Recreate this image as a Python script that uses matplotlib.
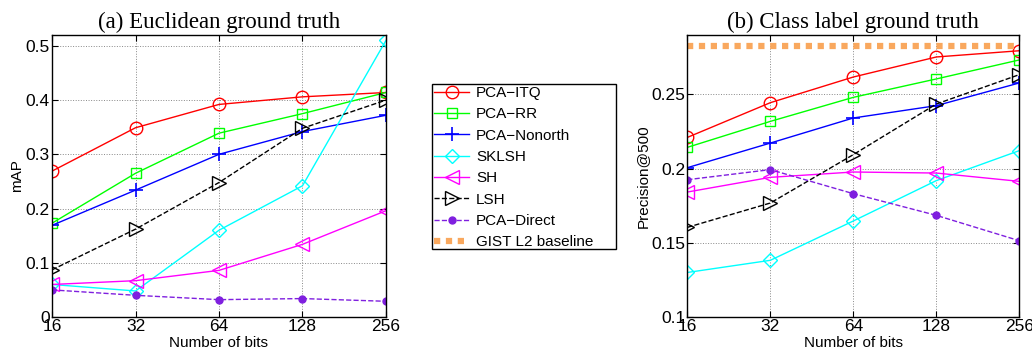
import matplotlib
matplotlib.use('Agg')
import matplotlib.pyplot as plt
from matplotlib.patches import Rectangle
import numpy as np

bits = [16, 32, 64, 128, 256]
bit_labels = ['16', '32', '64', '128', '256']

# (a) Euclidean ground truth, mAP
map_itq = [0.269, 0.349, 0.392, 0.406, 0.414]
map_rr = [0.173, 0.265, 0.339, 0.375, 0.414]
map_nonorth = [0.169, 0.234, 0.300, 0.342, 0.372]
map_sklsh = [0.060, 0.048, 0.160, 0.242, 0.510]
map_sh = [0.060, 0.067, 0.086, 0.134, 0.196]
map_lsh = [0.087, 0.162, 0.248, 0.348, 0.400]
map_direct = [0.050, 0.040, 0.032, 0.034, 0.029]

# (b) Class label ground truth, precision@500
prec_itq = [0.221, 0.2444, 0.2617, 0.2752, 0.2794]
prec_rr = [0.2143, 0.2318, 0.248, 0.2604, 0.2732]
prec_nonorth = [0.2006, 0.2172, 0.2341, 0.2424, 0.2577]
prec_sklsh = [0.130, 0.1382, 0.1647, 0.1919, 0.2121]
prec_sh = [0.1842, 0.1941, 0.1977, 0.197, 0.1914]
prec_lsh = [0.1604, 0.1768, 0.2094, 0.2435, 0.2633]
prec_direct = [0.1925, 0.1993, 0.1831, 0.1685, 0.1514]
gist_l2 = 0.2824

names = ['PCA\u2212ITQ', 'PCA\u2212RR', 'PCA\u2212Nonorth', 'SKLSH', 'SH', 'LSH',
         'PCA\u2212Direct', 'GIST L2 baseline']
styles = [
    dict(color='red', marker='o', ls='-', ms=9, mfc='none', mew=1.0),
    dict(color='#00ff00', marker='s', ls='-', ms=7.5, mfc='none', mew=1.0),
    dict(color='blue', marker='+', ls='-', ms=10, mew=1.2),
    dict(color='cyan', marker='D', ls='-', ms=7.5, mfc='none', mew=1.0),
    dict(color='magenta', marker='<', ls='-', ms=10.5, mfc='none', mew=1.0),
    dict(color='black', marker='>', ls='--', ms=10.5, mfc='none', mew=1.0),
    dict(color='#7f1fdf', marker='o', ls='--', ms=5, mfc='#7f1fdf', mew=1.0),
]

plt.rcParams['font.family'] = ['Liberation Sans', 'DejaVu Sans']
plt.rcParams['font.size'] = 10

fig = plt.figure(figsize=(10.32, 3.58), dpi=100)
ax1 = fig.add_axes([0.0504, 0.1145, 0.3236, 0.7877])
ax2 = fig.add_axes([0.666, 0.1145, 0.3217, 0.7877])

x = np.log2(bits)

def style_axis(ax):
    ax.set_xticks(x)
    ax.set_xticklabels(bit_labels)
    ax.set_xlim(x[0], x[-1])
    ax.grid(True, ls=':', color='#888888', lw=0.7)
    ax.tick_params(direction='in', length=4, top=True, right=True, labelsize=12.5, pad=1.5)
    for s in ax.spines.values():
        s.set_linewidth(1.0)
    ax.set_xlabel('Number of bits', fontsize=11, labelpad=1.5)

series_a = [map_itq, map_rr, map_nonorth, map_sklsh, map_sh, map_lsh, map_direct]
for vals, st in zip(series_a, styles):
    ax1.plot(x, vals, lw=1.0, **st)
style_axis(ax1)
ax1.set_ylim(0, 0.52)
ax1.set_yticks([0, 0.1, 0.2, 0.3, 0.4, 0.5])
ax1.set_yticklabels(['0', '0.1', '0.2', '0.3', '0.4', '0.5'])
ax1.set_ylabel('mAP', fontsize=11, labelpad=1)
ax1.set_title('(a) Euclidean ground truth', family='Liberation Serif', fontsize=16.5, pad=5)

series_b = [prec_itq, prec_rr, prec_nonorth, prec_sklsh, prec_sh, prec_lsh, prec_direct]
handles = []
for vals, st, name in zip(series_b, styles, names):
    h, = ax2.plot(x, vals, lw=1.0, label=name, **st)
    handles.append(h)
h, = ax2.plot(x, [gist_l2] * len(bits), color='#f9a85e', ls=(0, (1, 0.9)), lw=4.5,
              label=names[-1])
handles.append(h)
style_axis(ax2)
ax2.set_ylim(0.1, 0.29)
ax2.set_yticks([0.1, 0.15, 0.2, 0.25])
ax2.set_yticklabels(['0.1', '0.15', '0.2', '0.25'])
ax2.set_ylabel('Precision@500', fontsize=11, labelpad=1)
ax2.set_title('(b) Class label ground truth', family='Liberation Serif', fontsize=16.5, pad=5)

# legend between the panels, box drawn by hand like matlab
W, H = 1032.0, 358.0
leg = fig.legend(handles, names, loc='upper left', bbox_to_anchor=(434 / W, 1 - 86 / H),
                 fontsize=11, frameon=False, borderaxespad=0, borderpad=0,
                 handlelength=2.3, handletextpad=0.45, labelspacing=0.48)
fig.patches.append(Rectangle((432 / W, 1 - 249 / H), 184 / W, 165 / H,
                             transform=fig.transFigure, fill=False,
                             edgecolor='black', lw=1.0))

fig.savefig('out.png', dpi=100)
